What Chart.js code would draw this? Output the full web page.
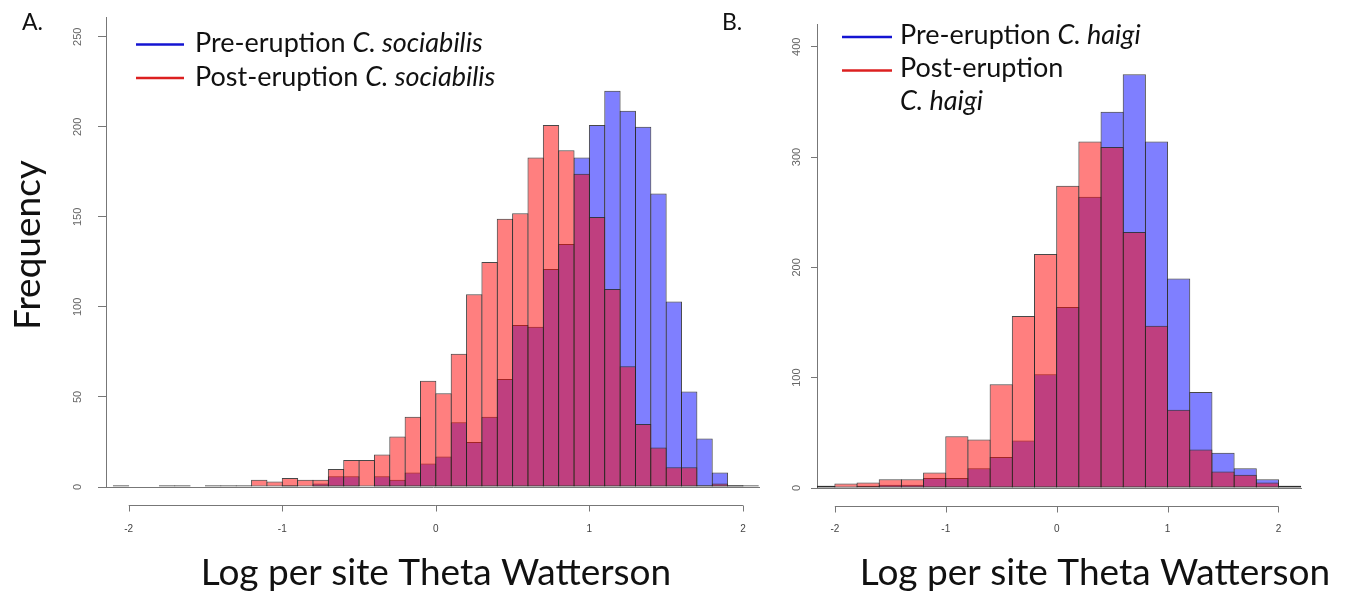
<!DOCTYPE html>
<html>
<head>
<meta charset="utf-8">
<script src="https://cdn.jsdelivr.net/npm/chart.js@4.4.1/dist/chart.umd.min.js"></script>
<style>
  html, body { margin: 0; padding: 0; background: #fff; }
  body { width: 1352px; height: 594px; position: relative; overflow: hidden; }
  canvas { position: absolute; top: 0; }
  #panelA { left: 0; width: 770px; height: 594px; }
  #panelB { left: 700px; width: 652px; height: 594px; }
</style>
</head>
<body>
<canvas id="panelA" width="770" height="594"></canvas>
<canvas id="panelB" width="652" height="594"></canvas>
<script>
// ---- data (bin centres, counts per bin) ----

// Panel A: C. sociabilis, bins of width 0.1 from -2.1 to 2.1
const aBins = [-2.05, -1.95, -1.85, -1.75, -1.65, -1.55, -1.45, -1.35, -1.25, -1.15,
               -1.05, -0.95, -0.85, -0.75, -0.65, -0.55, -0.45, -0.35, -0.25, -0.15,
               -0.05, 0.05, 0.15, 0.25, 0.35, 0.45, 0.55, 0.65, 0.75, 0.85,
               0.95, 1.05, 1.15, 1.25, 1.35, 1.45, 1.55, 1.65, 1.75, 1.85,
               1.95, 2.05];
const aPre  = [0, 0, 0, 0, 0, 0, 1, 0, 0, 0,
               0, 1, 0, 2, 6, 6, 0, 6, 4, 8,
               13, 17, 36, 25, 39, 60, 90, 89, 121, 135,
               183, 201, 220, 209, 200, 163, 103, 53, 27, 8,
               1, 1];
const aPost = [1, 0, 0, 1, 1, 0, 0, 1, 1, 4,
               3, 5, 4, 4, 10, 15, 15, 18, 28, 39,
               59, 52, 74, 107, 125, 149, 152, 183, 201, 187,
               174, 150, 110, 67, 35, 22, 11, 11, 1, 2,
               1, 0];

// Panel B: C. haigi, bins of width 0.2 from -2.2 to 2.2
const bBins = [-2.1, -1.9, -1.7, -1.5, -1.3, -1.1, -0.9, -0.7, -0.5, -0.3, -0.1,
               0.1, 0.3, 0.5, 0.7, 0.9, 1.1, 1.3, 1.5, 1.7, 1.9, 2.1];
const bPre  = [2, 1, 2, 3, 3, 9, 9, 18, 28, 43, 103,
               164, 264, 341, 375, 314, 190, 87, 32, 18, 8, 2];
const bPost = [2, 4, 5, 8, 8, 14, 47, 44, 94, 156, 212,
               274, 314, 309, 232, 147, 71, 35, 15, 12, 5, 2];

// tick labels
const xTicks  = [-2, -1, 0, 1, 2];
const aTicksY = [0, 50, 100, 150, 200, 250];
const bTicksY = [0, 100, 200, 300, 400];

const PRE_FILL  = 'rgba(0, 0, 255, 0.5)';
const POST_FILL = 'rgba(255, 0, 0, 0.5)';
const EDGE = 'rgba(40, 40, 40, 0.85)';
const TEXT_FONT = 'Lato, "Open Sans", sans-serif';
const TICK_FONT = '"Liberation Sans", Arial, sans-serif';

// draws the R-style detached x axis, titles and the legend
function overlayPlugin(cfg) {
    return {
        id: 'overlay',
        afterDraw(chart) {
            const ctx = chart.ctx;
            const xs = chart.scales.x;
            const yAx = Math.round(chart.chartArea.bottom + 18) + 0.5;

            ctx.save();
            ctx.strokeStyle = '#777';
            ctx.lineWidth = 1;
            ctx.beginPath();
            ctx.moveTo(xs.getPixelForValue(xTicks[0]), yAx);
            ctx.lineTo(xs.getPixelForValue(xTicks[xTicks.length - 1]), yAx);
            xTicks.forEach(v => {
                const px = Math.round(xs.getPixelForValue(v)) + 0.5;
                ctx.moveTo(px, yAx);
                ctx.lineTo(px, yAx + 6);
            });
            ctx.stroke();

            ctx.fillStyle = '#111';
            ctx.textBaseline = 'alphabetic';

            // panel letter
            ctx.textAlign = 'left';
            ctx.font = '23px ' + TEXT_FONT;
            ctx.fillText(cfg.letter, 22, 30);

            // x axis title
            ctx.textAlign = 'center';
            ctx.font = '37px ' + TEXT_FONT;
            ctx.fillText('Log per site Theta Watterson', cfg.titleX, 585);

            // y axis title
            if (cfg.yTitle) {
                ctx.save();
                ctx.translate(40, 245);
                ctx.rotate(-Math.PI / 2);
                ctx.fillText(cfg.yTitle, 0, 0);
                ctx.restore();
            }

            // legend
            ctx.textAlign = 'left';
            cfg.legend.forEach(row => {
                if (row.color) {
                    ctx.strokeStyle = row.color;
                    ctx.lineWidth = 2.5;
                    ctx.beginPath();
                    ctx.moveTo(cfg.lineX[0], row.lineY);
                    ctx.lineTo(cfg.lineX[1], row.lineY);
                    ctx.stroke();
                }
                let x = cfg.textX;
                row.parts.forEach(([txt, italic]) => {
                    ctx.font = (italic ? 'italic ' : '') + '27px ' + TEXT_FONT;
                    ctx.fillText(txt, x, row.baseline);
                    x += ctx.measureText(txt).width;
                });
            });
            ctx.restore();
        }
    };
}

function makePanel(id, bins, pre, post, yTicks, opt) {
    const ctx = document.getElementById(id).getContext('2d');
    return new Chart(ctx, {
        type: 'bar',
        data: {
            datasets: [
                {
                    label: 'Post-eruption',
                    data: bins.map((x, i) => ({ x: x, y: post[i] })),
                    backgroundColor: POST_FILL,
                    order: 1
                },
                {
                    label: 'Pre-eruption',
                    data: bins.map((x, i) => ({ x: x, y: pre[i] })),
                    backgroundColor: PRE_FILL,
                    order: 2
                }
            ]
        },
        options: {
            responsive: false,
            animation: false,
            layout: { padding: opt.padding },
            datasets: {
                bar: {
                    grouped: false,
                    barPercentage: opt.barPct,
                    categoryPercentage: 1,
                    borderColor: EDGE,
                    borderWidth: 1,
                    borderSkipped: false
                }
            },
            plugins: { legend: { display: false }, tooltip: { enabled: false } },
            scales: {
                x: {
                    type: 'linear',
                    offset: false,
                    min: opt.xMin,
                    max: opt.xMax,
                    afterBuildTicks: s => { s.ticks = xTicks.map(v => ({ value: v })); },
                    // fixed height, and no extra side padding for the end labels
                    afterFit: s => { s.height = 50; s.paddingLeft = 0; s.paddingRight = 0; },
                    grid: { display: false, drawTicks: false },
                    border: { display: false },
                    ticks: {
                        padding: opt.xTickPad,
                        color: '#444',
                        font: { family: TICK_FONT, size: 10 },
                        maxRotation: 0,
                        autoSkip: false
                    }
                },
                y: {
                    min: 0,
                    max: opt.yMax,
                    afterBuildTicks: s => { s.ticks = yTicks.map(v => ({ value: v })); },
                    afterFit: s => { s.width = 60; s.paddingTop = 0; s.paddingBottom = 0; },
                    border: { display: true, color: '#777', width: 1 },
                    grid: {
                        drawOnChartArea: true,
                        drawTicks: true,
                        tickLength: opt.tickLen,
                        tickColor: '#777',
                        color: c => (c.tick && c.tick.value === 0) ? '#777' : 'rgba(0,0,0,0)'
                    },
                    ticks: {
                        minRotation: 90,
                        maxRotation: 90,
                        crossAlign: 'center',
                        padding: opt.yTickPad,
                        color: '#666',
                        font: { family: TICK_FONT, size: 11 },
                        autoSkip: false
                    }
                }
            }
        },
        plugins: [overlayPlugin(opt.overlay)]
    });
}

makePanel('panelA', aBins, aPre, aPost, aTicksY, {
    xMin: -2.148, xMax: 2.111, yMax: 261,
    padding: { left: 46, right: 10, top: 17, bottom: 57 },
    barPct: 1.065, tickLen: 8, yTickPad: 11, xTickPad: 36,
    overlay: {
        letter: 'A.', titleX: 436, yTitle: 'Frequency',
        lineX: [136, 184], textX: 195,
        legend: [
            { color: '#1414d2', lineY: 44.5, baseline: 52, parts: [['Pre-eruption ', false], ['C. sociabilis', true]] },
            { color: '#dc2020', lineY: 78, baseline: 86, parts: [['Post-eruption ', false], ['C. sociabilis', true]] }
        ]
    }
});

makePanel('panelB', bBins, bPre, bPost, bTicksY, {
    xMin: -2.161, xMax: 2.212, yMax: 420.6,
    padding: { left: 57, right: 50, top: 24, bottom: 56 },
    barPct: 1.045, tickLen: 6, yTickPad: 5, xTickPad: 35,
    overlay: {
        letter: 'B.', titleX: 395, yTitle: null,
        lineX: [142, 192], textX: 200,
        legend: [
            { color: '#1414d2', lineY: 37, baseline: 44, parts: [['Pre-eruption ', false], ['C. haigi', true]] },
            { color: '#dc2020', lineY: 70.5, baseline: 77, parts: [['Post-eruption', false]] },
            { color: null, lineY: 0, baseline: 110, parts: [['C. haigi', true]] }
        ]
    }
});
</script>
</body>
</html>
